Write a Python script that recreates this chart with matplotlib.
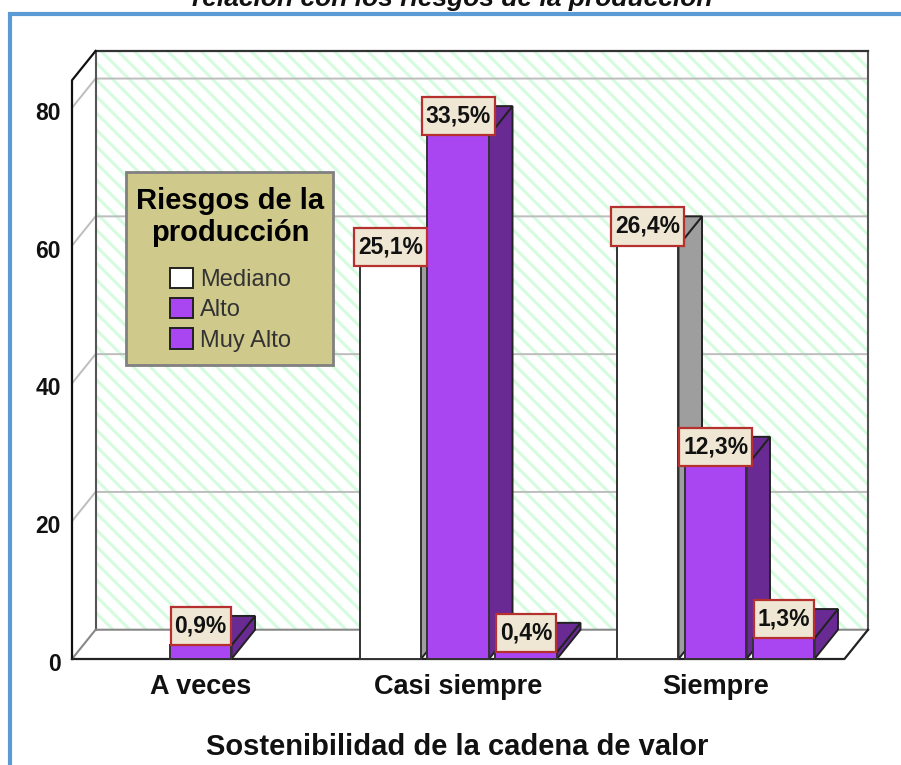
import matplotlib
matplotlib.use('Agg')
import matplotlib.pyplot as plt
from matplotlib.lines import Line2D
from matplotlib.patches import Patch, Polygon, Rectangle
from matplotlib.transforms import ScaledTranslation
import numpy as np

plt.rcParams['font.family'] = ['Liberation Sans', 'DejaVu Sans']
plt.rcParams['hatch.linewidth'] = 2.2

# counts (n = 227)
categories = ['A veces', 'Casi siempre', 'Siempre']
series_names = ['Mediano', 'Alto', 'Muy Alto']
mediano = [np.nan, 57, 60]
alto = [2, 76, 28]
muy_alto = [np.nan, 1, 3]
mediano_pct = ['', '25,1%', '26,4%']
alto_pct = ['0,9%', '33,5%', '12,3%']
muy_alto_pct = ['', '0,4%', '1,3%']
y_ticks = [0, 20, 40, 60, 80]

W, H = 901, 765
x_left, x_right = -0.5, 2.5
y_top = 84
dx, dy = 0.0915, 4.25       # depth of the fake 3d box
bar_w, step = 0.2387, 0.264
box_h = 5.6                 # label boxes, in data units

face = {'Mediano': 'white', 'Alto': '#a945f1', 'Muy Alto': '#a945f1'}
side = {'Mediano': '#9e9e9e', 'Alto': '#6a2a94', 'Muy Alto': '#6a2a94'}

fig = plt.figure(figsize=(W / 100, H / 100), dpi=100)
ax = fig.add_axes([72 / W, (H - 659) / H, 796 / W, 608 / H])
ax.set_xlim(x_left, x_right + dx)
ax.set_ylim(0, y_top + dy)
for s in ax.spines.values():
    s.set_visible(False)

# back wall with stripes
ax.add_patch(Rectangle((x_left + dx, dy), x_right - x_left, y_top, fc='white',
                       ec='#d6fce0', lw=0, hatch='\\\\', zorder=1))

# grid on the back wall and the left wall
for v in y_ticks[1:]:
    ax.plot([x_left, x_left + dx, x_right + dx], [v, v + dy, v + dy],
            color='#bdbdbd', lw=1.4, zorder=2, clip_on=False)

# box outline
ax.plot([x_left + dx, x_left + dx], [dy, y_top + dy], color='#555555', lw=1.5, zorder=2, clip_on=False)
ax.plot([x_left, x_left + dx, x_right + dx], [0, dy, dy], color='#888888', lw=1.5, zorder=2, clip_on=False)
ax.plot([x_right + dx, x_right + dx], [dy, y_top + dy], color='#555555', lw=1.5, zorder=2, clip_on=False)
ax.plot([x_left + dx, x_right + dx], [y_top + dy, y_top + dy], color='#333333', lw=1.6, zorder=2, clip_on=False)
ax.plot([x_left, x_left, x_left + dx], [0, y_top, y_top + dy], color='#111111', lw=1.6, zorder=2, clip_on=False)
ax.plot([x_left, x_right, x_right + dx], [0, 0, dy], color='#222222', lw=1.6, zorder=2, clip_on=False)


def draw_bar(x0, v, name, z):
    x1 = x0 + bar_w
    ax.add_patch(Polygon([(x1, 0), (x1 + dx, dy), (x1 + dx, v + dy), (x1, v)],
                         fc=side[name], ec='#222222', lw=1.4, zorder=z, clip_on=False))
    ax.add_patch(Polygon([(x0, v), (x1, v), (x1 + dx, v + dy), (x0 + dx, v + dy)],
                         fc=side[name], ec='#222222', lw=1.4, zorder=z, clip_on=False))
    ax.add_patch(Rectangle((x0, 0), bar_w, v, fc=face[name], ec='#333333', lw=1.4,
                           zorder=z, clip_on=False))


series = [mediano, alto, muy_alto]
pcts = [mediano_pct, alto_pct, muy_alto_pct]
z = 3
for c in range(len(categories)):
    for i, name in enumerate(series_names):
        v = series[i][c]
        if np.isnan(v):
            continue
        x0 = c + (i - 1) * step - bar_w / 2
        draw_bar(x0, v, name, z)
        z += 0.1

# percent labels go over every bar
for c in range(len(categories)):
    for i, name in enumerate(series_names):
        v = series[i][c]
        if np.isnan(v):
            continue
        xc = c + (i - 1) * step
        box_w = 0.283 if len(pcts[i][c]) > 4 else 0.234
        ax.add_patch(Rectangle((xc - box_w / 2, v), box_w, box_h, fc='#efe7d3', ec='#b5302f',
                               lw=1.6, zorder=20, clip_on=False))
        ax.text(xc, v + box_h / 2, pcts[i][c], ha='center', va='center', fontsize=16.5,
                fontweight='bold', color='#111111', zorder=21)

# axis texts
ax.set_yticks(y_ticks)
ax.set_xticks(range(len(categories)))
ax.set_xticklabels(categories, fontsize=19.5, fontweight='bold', color='#111111', va='baseline')
ax.tick_params(axis='both', length=0)
ax.tick_params(axis='x', pad=25)
ax.tick_params(axis='y', pad=8, labelsize=16.5)
for lab in ax.get_yticklabels():
    lab.set_fontweight('bold')
    lab.set_color('#111111')
    lab.set_transform(lab.get_transform() + ScaledTranslation(0, -2.1 / 72, fig.dpi_scale_trans))
ax.set_xlabel('Sostenibilidad de la cadena de valor', fontsize=21, fontweight='bold',
              x=(457.5 - 72) / 796, labelpad=24, color='#111111')

# legend, its frame is a separate rectangle so the box size can be set exactly
fig.add_artist(Rectangle((126 / W, 1 - 365 / H), 207 / W, 193 / H, transform=fig.transFigure,
                         fc='#cfc98b', ec='#808080', lw=2, zorder=29))
handles = [Patch(fc=face[n], ec='#222222', lw=1.4, label=n) for n in series_names]
leg = fig.legend(handles=handles, title='Riesgos de la\nproducción',
                 loc='upper center', bbox_to_anchor=(230.5 / W, 1 - 186.5 / H),
                 bbox_transform=fig.transFigure,
                 prop={'size': 17}, title_fontproperties={'size': 21, 'weight': 'bold'},
                 frameon=False, borderpad=0, labelspacing=0.3, handlelength=0.95, handleheight=0.95,
                 handletextpad=0.3, borderaxespad=0)
leg.set_zorder(30)
leg._legend_box.align = 'center'
leg._legend_box.sep = 15
leg.get_title().set_multialignment('center')
for t in leg.get_texts():
    t.set_color('#333333')

# title cut by the top of the page, blue frame
fig.text(452 / W, 1 - 6 / H, 'relación con los riesgos de la producción', ha='center',
         va='baseline', fontsize=19, fontweight='bold', fontstyle='italic', color='#111111')
fig.add_artist(Line2D([9.5 / W, 9.5 / W, 1], [0, 1 - 13.5 / H, 1 - 13.5 / H],
                      color='#5b9bd5', lw=3, solid_joinstyle='miter'))

fig.savefig('out.png', dpi=100)
